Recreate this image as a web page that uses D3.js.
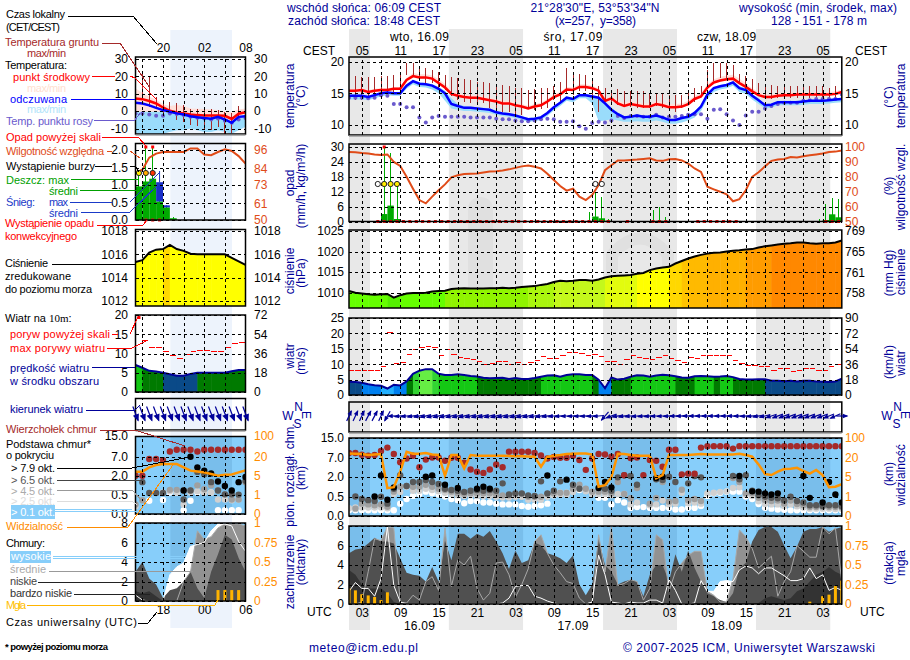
<!DOCTYPE html>
<html>
<head>
<meta charset="utf-8">
<script src="https://cdn.jsdelivr.net/npm/d3@7"></script>
<style>
body { margin: 0; background: #fff; }
text { font-family: "Liberation Sans", Arial, sans-serif; font-size: 12px; }
.tick text { font-family: "Liberation Sans", Arial, sans-serif; font-size: 12px; }
</style>
</head>
<body>
<div id="chart"></div>
<script>
// ---------- main forecast, hourly, first point = 01 UTC 16.09 ----------
let mainTemp = [
  15.4,15.4,15.5,15.2,15.4,15.5,15.5,15.7,15.7,17.1,
  17.7,17.5,17.5,17.3,16.6,15.9,14.9,14.6,14.4,14.3,
  14.3,14.1,13.9,13.7,13.4,13.4,13.1,12.9,12.6,12.9,
  13.1,13.7,14.4,14.8,15.6,15.5,16,16,15.8,15.4,
  13.8,14.2,13.4,13,13.3,13.1,12.9,12.9,13.3,13.1,
  12.8,12.8,12.9,13.3,14.1,14.5,15.9,16.7,17,17.2,
  17.3,16.6,16,15.3,14.7,14.4,14.4,14.6,14.7,14.7,
  14.8,14.8,14.8,14.8,14.8,14.8,14.9,15.2];
let mainTempMax = [
  15.7,15.7,15.8,15.5,15.7,15.8,15.8,16,16,17.4,
  18.2,18,18,17.8,17.2,16.5,15.4,15,14.8,14.7,
  14.7,14.5,14.3,14.1,13.8,13.8,13.5,13.3,13,13.3,
  13.5,14.1,14.8,15.2,16,15.9,16.4,16.4,16.2,15.8,
  14.2,14.6,13.9,13.5,13.8,13.6,13.4,13.4,13.8,13.6,
  13.3,13.3,13.4,13.8,14.6,15,16.4,17.2,17.6,17.8,
  17.9,17.3,16.6,15.8,15.2,14.8,14.8,15,15.1,15.1,
  15.2,15.2,15.2,15.2,15.2,15.2,15.3,15.6];
let mainTempMin = [
  15.2,15.2,15.3,15,15.2,15.3,15.3,15.5,15.5,16.9,
  17.5,17.3,17.3,17.1,16.4,15.7,14.7,14.4,14.2,14.1,
  14.1,13.9,13.7,13.5,13.2,13.2,12.9,12.7,12.4,12.7,
  12.9,13.5,14.2,14.6,15.4,15.3,15.8,15.8,15.6,15.2,
  13.6,14,13.2,12.8,13.1,12.9,12.7,12.7,13.1,12.9,
  12.6,12.6,12.7,13.1,13.9,14.3,15.7,16.5,16.8,17,
  17.1,16.4,15.8,15.1,14.5,14.2,14.2,14.4,14.5,14.5,
  14.6,14.6,14.6,14.6,14.6,14.6,14.7,15];
let mainFeel = [
  14.6,14.6,14.6,14.4,14.7,15,15.1,15,15,16.2,
  16.9,16.5,16.4,16.2,15.7,15,13.3,13,12.7,12.7,
  12.6,12.5,12.4,12,11.8,11.7,11.5,11.2,10.9,11,
  11.2,11.9,12.8,13.5,14.3,14.1,14.7,14.7,14.5,14.3,
  13.4,12.4,11.7,11.2,11.3,11.5,11.3,11.3,11.5,11.2,
  10.8,10.8,11.1,11.3,11.9,12.9,14.8,15.8,16.1,16.3,
  16.7,15.8,15.5,14.6,13.9,13.1,13.2,13.6,13.6,13.6,
  13.6,13.7,13.8,13.8,13.8,13.9,14,14.1];
let mainFeelMax = [
  14.8,14.8,14.8,14.6,14.9,15.2,15.3,15.2,15.2,16.4,
  17.1,16.7,16.6,16.4,16,15.4,14.2,13.3,13,12.9,
  12.8,12.7,12.6,12.2,12,11.9,11.7,11.4,11.1,11.2,
  11.4,12.1,13,13.7,14.5,14.3,14.9,14.9,14.7,14.5,
  13.7,12.7,12,11.4,11.5,11.7,11.5,11.5,11.7,11.4,
  11,11,11.3,11.5,12.1,13.2,15.1,16,16.3,16.5,
  16.9,16.1,15.8,14.9,14.2,13.3,13.4,13.8,13.8,13.8,
  13.8,13.9,14,14,14,14.1,14.2,14.3];
let mainFeelMin = [
  14,14,14,13.9,14.2,14.5,14.7,14.6,14.6,15.7,
  16.4,16,15.9,15.6,15,13.8,12.6,12.4,12.2,12.2,
  12.1,12,11.9,11.6,11.4,11.3,11.1,10.8,10.5,10.6,
  10.8,11.4,12.3,13,13.8,13.6,14.2,14.2,13.4,10.6,
  10.7,10.9,10.7,10.5,10.5,10.6,10.5,10.5,10.7,10.5,
  10.2,10.2,10.4,10.7,11.2,12.2,14.1,15.2,15.6,15.8,
  16.2,15.2,14.9,14,13.3,12.6,12.7,13.1,13.1,13.1,
  13.1,13.2,13.3,13.3,13.3,13.4,13.5,13.6];
let mainDew = [
  14.3,14.3,14.3,14.2,14.3,14.7,14.6,13.3,13.3,12.8,
  12.8,11.2,10.4,11.2,11.4,11.3,11.3,11.3,11.3,11.2,
  11.2,11.2,11.2,11,10.9,10.9,10.7,10.6,10.6,10.7,
  10.9,11,10.9,10.5,10.5,10.6,9.8,9.4,10.3,10.5,
  10.4,10.7,11.4,11.1,11.4,11.4,11.3,11.3,11.6,11.2,
  11.3,11.3,11.4,11.6,11.7,11.7,11,12.4,12.5,11.7,
  10.7,10,11.5,12.1,12.1,12.6,13,13.3,13.5,13.5,
  13.5,13.8,13.9,14.1,14.1,14.1,14.1,14.8];
let mainSoilMax = [
  null,17.7,17.6,17.5,17.5,17.7,17.7,17.9,18.2,19.7,
  19.7,19.2,18.9,18.7,18.4,17.9,17.6,17.4,17.2,17.1,
  16.8,16.7,16.6,16.5,16.3,16.2,15.9,15.8,15.5,15.6,
  15.9,15.9,16.2,16.8,18.9,18.4,18,17.9,17.1,16.2,
  15.8,15.5,15.6,15.4,15.4,15.3,15.3,15.1,15.1,15,
  14.8,14.7,14.8,15.4,15.8,16.2,18.7,19.7,19.7,19.7,
  19.5,18,17.7,17.2,16.6,16.3,16.3,16.2,16.2,16.1,
  16.1,16.2,16.2,16.2,16.1,15.9,16.2,15.8];
let mainSoilMin = [
  null,13.9,13.9,13.9,14.1,14.5,14.7,15,14.7,17.8,
  17.9,17.1,16.6,16.6,15.8,15.5,14.5,13.9,13.7,13.4,
  13.4,13.4,12.6,12.6,12.1,12.1,11.8,11.6,12.6,12.4,
  12.5,12.6,13.9,13.4,15,14.7,15.3,15.3,13.9,12.1,
  13.9,13.2,13.2,12.9,12.9,12.6,12.6,12.6,13,12.6,
  12.4,12.1,12.6,13.4,13.7,14.5,16.1,17,17.4,17.4,
  17.1,16.7,15.5,14.7,14.5,14.2,14.1,14.2,14.2,14.2,
  14.2,14.3,14.3,14.3,14.3,14.3,14.3,14.5];
let mainHumidity = [
  96.7,96.5,96,95.6,94.9,94.7,95,90,87.3,80,
  72,64.4,62.2,66.7,71,74.9,79.6,81,81.8,82,
  82.2,82.9,83.6,83.8,84.2,85,86,87,87.5,86.7,
  85.6,82,77.8,73.8,70.7,72,66.7,64.4,67.8,74.4,
  84.4,87.8,90.9,91,91.3,91.6,92,92.4,90.9,90.7,
  91.8,92,91,88.9,85.6,83.3,73.3,71.6,70,68.2,
  63.6,65,71,80,83,87,90.7,91.6,92,93.3,
  93,93.8,94.4,95,95.6,96.7,96.9,97.6];
let mainRainHours = [6,7,8,38,39,40,41,48,49,50,74,75,76,77];
let mainRainMean = [3,6.4,1,0,2,1.3,0.3,0.2,0.3,0.2,0.2,0.6,2.9,1.7];
let mainRainMax = [31,27.6,15.6,4,12,10,1,4.7,5.7,1.7,1,7,9.3,9];
let mainStormHours = [5,6,7,8,39,40];
let mainStormLevel = [0,1,1,1,0,0];
let mainConvective = [5,6,7,8,9,10,11,12,13,14,15,16,17,18,19,20,21,22,23,24,25,26,27,28,29,30,
  31,32,33,34,35,36,37,38,39,40,41,44,48,49,50,55,56,57,58,59,60,61,75,76,77];
let mainPressure = [
  1010.4,1010,1009.8,1009.6,1009.5,1009.6,1009.7,1008.8,1009.4,1009.8,
  1009.9,1009.9,1010,1010.3,1010.4,1010.5,1010.9,1011,1011.1,1011,
  1011,1011,1011.1,1011.1,1011.2,1011.1,1011.2,1011.4,1011.5,1011.6,
  1011.9,1012.1,1012.6,1012.9,1012.8,1012.9,1013.1,1013.1,1012.9,1013.2,
  1013.7,1014,1014.1,1014.2,1014.3,1014.6,1014.8,1015.5,1015.9,1016.1,
  1016.3,1017.1,1017.7,1018.3,1018.8,1019.2,1019.5,1019.7,1019.8,1020,
  1020.2,1020.3,1020.5,1020.6,1021,1021.3,1021.5,1021.7,1021.9,1022,
  1022.2,1022.2,1022,1021.9,1022,1022,1022.2,1022.7];
let mainWind = [
  4.3,4.2,4,3.5,3.2,3,2.1,3.3,3.1,4.4,
  6.9,7.9,8.4,8.4,6.9,6.5,6.5,6.7,6.5,6.2,
  6,5.6,5.4,5.5,5.6,5.2,5.5,5.2,5.2,5.5,
  5.9,6.3,6.4,5.9,6.5,6.7,6.7,6.5,6.5,5,
  2.2,5.7,5,5.3,5.9,6.4,6.3,5.9,6.3,6.6,
  6.4,6.1,5.7,5.6,6.1,6.2,6.1,5.9,6,6.2,
  5.8,5.2,5,5,5.1,5.1,4.6,4.6,4.5,4.6,
  4.4,4.6,4.6,4.4,4.3,4.2,4.4,5.3];
let mainGust = [
  8,8,8,8,7.8,9.1,20.4,10.1,10.5,13.2,
  14.8,15.4,15.7,15.4,12.8,14.8,13.1,12.3,11.7,11.5,
  10.8,9.8,10.2,10.8,10.8,9.9,10.5,9.8,10.5,11.1,
  12.4,12,12,12.8,13.7,13.8,13.4,12.8,13.1,12.4,
  10.8,10.8,9.8,11.5,12.8,12.1,11.8,11.5,12.1,12.7,
  12,11.1,10.5,12.1,11.8,12.8,12.8,12.8,12.8,12.8,
  11.1,10.1,9.5,9.5,9.1,9.1,8.1,8.5,8.5,7.5,
  8.1,8.5,8.5,8.1,8.1,9.1,9.8,null];
let mainWindFrom = [
  205,205,205,208,208,205,30,88,84,82,
  80,78,76,75,75,75,75,75,75,75,
  75,75,75,75,75,75,75,75,76,77,
  78,80,82,84,85,86,86,86,86,85,
  40,70,80,80,82,82,84,84,85,85,
  86,88,88,90,90,90,90,90,90,90,
  90,88,86,84,80,76,72,70,70,70,
  70,70,70,70,70,68,66,270];
let mainCloudTop = [
  8.9,8.9,8.2,7.8,8.1,9.7,11.1,8.5,5.8,6.8,
  7.8,4.5,6.5,7.1,7.1,6.2,7,7,5.7,3.9,
  3.3,3,3.9,5.2,4.5,9.4,9.4,9.4,9.4,8.9,
  7.9,6.8,7.3,7,7,7.8,6.4,3.8,6.8,8.5,
  8.3,7.4,8.5,2.4,6.9,7.1,2.4,6.4,6.2,4.6,
  10.2,10.2,2.6,2.8,2.8,11.1,11.7,11.7,11.7,11.7,
  10.7,11.7,11.7,11.7,11.7,11.7,11.7,11.7,11.7,11.7,
  11.7,11.7,11.7,11.7,11.7,11.7,11.7,11.7];
let mainBase79 = [
  null,null,null,null,0.52,2.3,0.42,1.2,null,null,
  null,null,2,2.3,null,1.4,null,1.15,null,null,
  1.1,1.25,1.1,null,null,null,null,null,null,null,
  null,2.3,null,null,1.78,null,null,null,null,1.15,
  1.6,1.2,null,null,null,null,null,null,1.9,2,
  null,null,null,null,null,null,null,null,null,null,
  null,2.2,null,0.9,0.88,0.75,0.66,0.75,null,null,
  null,2.2,0.47,null,0.35,1.6,0.66,0.35];
let mainBase65 = [
  null,0.52,0.44,0.41,0.39,0.5,0.32,1.1,2.4,1.3,
  1.6,1.6,1.75,1.6,1.45,1.1,1,0.95,0.85,0.95,
  1,0.95,1,0.95,1.5,0.66,0.75,0.75,0.6,0.55,
  1.65,0.75,0.95,1.65,null,1.4,1.1,null,null,null,
  1.1,0.95,1.95,2.4,2.2,1.4,null,null,1.8,1.75,
  2,1.6,null,1.5,2.2,1.95,null,null,null,null,
  2.2,1.8,2.4,0.95,0.6,0.5,0.47,0.46,0.4,0.5,
  0.39,0.35,0.28,0.28,0.26,0.28,0.28,0.25];
let mainBase45 = [
  null,0.19,0.32,0.3,0.28,0.3,0.24,0.88,1.25,1.3,
  1.25,1.25,1.4,1.25,1.1,1,0.88,0.75,0.7,0.75,
  0.75,0.75,0.75,0.66,0.6,0.6,0.7,0.7,0.5,0.5,
  0.5,0.7,0.75,0.8,0.8,1.1,1.4,1.1,0.88,0.88,
  0.88,0.75,1.6,0.7,0.46,1.15,null,0.32,0.47,1.6,
  0.37,0.39,1.02,0.41,0.44,0.39,null,null,null,null,
  1.9,1.6,0.75,0.75,0.47,0.41,0.39,0.4,0.32,0.4,
  0.31,0.28,0.23,0.23,0.23,0.23,0.23,0.22];
let mainBase25 = [
  0.2,0.22,0.22,0.22,0.22,0.22,0.2,0.7,0.85,1.25,
  0.95,0.95,1.1,1,0.9,0.8,0.7,0.6,0.55,0.6,
  0.55,0.55,0.55,0.5,0.48,0.48,0.5,0.5,0.42,0.42,
  0.42,0.5,0.6,0.65,0.65,0.85,1.2,0.9,0.7,0.7,
  0.7,0.6,0.7,0.7,0.3,0.35,null,0.28,0.3,0.4,
  0.3,0.32,0.8,0.33,0.35,0.32,0.75,0.8,0.85,0.9,
  1.15,1.2,0.65,0.55,0.38,0.31,0.3,0.3,0.26,0.3,
  0.25,0.22,0.19,0.19,0.19,0.19,0.18,0.18];
let mainBase01 = [
  0.15,0.15,0.15,0.15,0.15,0.15,0.15,0.15,0.32,0.44,
  0.56,0.7,0.88,0.75,0.66,0.52,0.44,0.41,0.33,0.39,
  0.39,0.35,0.35,0.32,0.3,0.3,0.3,0.26,0.24,0.26,
  0.28,0.32,0.6,0.8,0.8,0.95,1,0.95,0.75,0.47,
  0.47,0.3,0.41,0.35,0.21,0.23,0.23,0.21,0.21,0.21,
  0.21,0.17,0.17,0.21,0.21,0.26,0.56,0.75,0.8,0.88,
  0.88,0.88,0.52,0.44,0.31,0.21,0.19,0.17,0.16,0.15,
  0.15,0.15,0.15,0.15,0.15,0.15,0.15,0.15];
let mainVisibility = [
  37,36,35,31,33,35,2.7,2.9,9,44,
  36,36,39,33,31,5.8,31,31,11.6,31,
  28,28,28,28,28,27,26,26,25,24,
  12.9,23,28,31,35,36,37,37,33,3,
  3.3,4.9,36,35,31,28,28,28,4.7,6.3,
  31,31,31,31,33,35,33,33,33,33,
  33,36,31,24,14.7,7.1,6.3,9,11,11.3,
  12,9.5,7.4,10.3,6.3,2.9,3,3.5];
let mainCloudVeryLow = [
  3.5,3,2,1.6,1.6,1.6,1.1,0.2,0,0,
  0,0,0,0,0,0,0,0,0,0,
  0,0,0,0,0,0,0,0,0,0,
  0,0,0,0,0,0,0,0,0,0,
  0,0,0,0,0,0,0,0,0,0,
  0,0,0,0,0,0,0,0,0,0,
  0,0,0,0,0.1,0.6,0.8,0.6,0.4,0.6,
  1.3,1.6,2.3,3,3.3,3.8,3.3,3];
let mainCloudLow = [
  5.2,5.6,5.7,6.2,6.8,6.4,6.4,6.2,4.7,3.2,
  3,2.9,2.3,3.8,2.3,6.5,4.5,7.2,7.2,6.7,
  7.2,6.9,7.5,6.4,5.2,3.6,5.5,4.2,4.5,6.3,
  6,5.2,5,4.7,4.2,5,2,0.9,2,6.7,
  4,3.3,2,2.3,2.5,2.3,0.8,3,4,4,
  2.3,5.1,3.3,5.5,3.7,2.3,1.1,0.8,0.4,0.2,
  1.1,3.7,4.2,6.4,7.6,7.9,7.9,7.4,6,4.7,
  5.9,7.4,7.7,7.7,7.9,7.4,7.7,7.9];
let mainCloudMid = [
  0,0,0.2,3.3,6.7,6.5,7.9,7.8,0.2,0.1,
  0.9,0.4,2.3,2.8,1.4,7.8,1.8,4.5,4,4.9,
  1.6,0.4,1.1,4.2,4.3,3,0.7,2,3.6,6.4,
  7.1,5.2,4,3.2,2.3,2.1,0.6,0,0.2,7.1,
  3.3,7.9,1.9,2.1,2.5,2.3,0.4,1.6,7.1,6.6,
  1.3,3.3,4.2,5,5.4,5.4,1.3,0.9,0.2,0.2,
  2.6,7.6,6.9,5.7,3.7,4.3,4.9,0.8,2.3,3.3,
  6,5.4,4.8,4.8,7.9,7.2,7.8,2.3];
let mainCloudHigh = [
  1.3,2.2,1.6,1.6,0.8,2.6,7.9,1.9,0.2,0,
  0,0,0,0,0,0,0,0,0,0,
  0,0,0,0,0.1,0.6,1.8,1.9,1.9,0.8,
  0.6,0.3,0.1,0,0,0,0,0,0.2,5,
  3,0.2,0.1,0,0.2,0.1,0.1,0.4,0.4,0.1,
  2.5,1.4,0,0,0.1,2.4,1.3,1.3,2.3,2.4,
  2.3,3.5,3.9,3.7,3.1,3.7,3.7,3.3,2.9,2.4,
  2.4,2.6,3.7,2.6,3,1.4,1.7,1.4];
let mainFogHours = [1,2,3,4,5,6,7,73,75,76,77,78];
let mainFog = [0.2,0.175,0.125,0.11,0.09,0.05,0.15,0.03,0.1,0.12,0.23,0.3];

// ---------- legend forecast, hourly, first point = 14 UTC 15.09 ----------
let sideTemp = [7.3,6.9,5.8,4.4,2.1,0.2,-0.8,-1.3,-1.9,-2.3,-2.5,-2.5,-2.5,-2.7,-4.5,-1.5,-0.6];
let sideTempMax = [13,10.6,8.3,6.7,4,2.9,3.5,2.9,1.5,1.3,1.2,1,0.6,-0.4,-0.4,1,1.5];
let sideTempMin = [-0.5,-0.5,-0.5,-0.5,-0.5,-1,-2,-2.5,-3,-3.5,-3.5,-3.5,-3.5,-4,-6,-3,-2];
let sideFeel = [4.8,4.4,3.3,1.9,0.6,-0.4,-1.3,-1.9,-2.9,-3.5,-4,-4.4,-3.3,-4.8,-6.7,-3.3,-2.9];
let sideFeelMax = [-0.4,-0.4,-0.4,-0.4,-0.4,-1,-2,-2.5,-3,-3.5,-3.5,-3.5,-3.5,-4,-6,-3,-2];
let sideFeelMin = [-13,-13,-13,-13,-13,-12,-11,-11,-10,-11,-12,-12,-11,-12,-13,-11,-9];
let sideDew = [-1.3,-1.3,-1.9,-2.7,-2.7,-1.3,-1.7,-2.3,-3.3,-3.8,-4.2,-4.8,-4.2,-5.6,-6.7,-4.8,-4];
let sideSoilMax = [null,22.7,19.4,8.3,6.3,5.4,4.4,3.5,1.5,1.5,1,1.5,0.6,-0.4,-1.3,2.9,null];
let sideSoilMin = [null,7.3,2.5,2.5,-1.3,-2.3,-5.2,-6.2,-8,-8.7,-10,-11,-9,-12.9,-12.5,-5.2,null];
let sideHumidity = [81,83,91,93.6,94.7,94.7,94.7,94.7,97,97,93,92.6,94.7,96.5,95.4,92,87];
let sideRainHours = [14,15,16,17,18,19];
let sideRainMean = [0.96,1.1,1.18,0.53,0.36,0.05];
let sideRainMax = [1.35,3,3,0.6,0.4,0.1];
let sideSnowHours = [17,18];
let sideSnowMean = [0.55,0.06];
let sideSnowMax = [1.4,0.4];
let sideStormHours = [14,15,16];
let sideStormLevel = [1,2,3];
let sideConvective = [15,16,17];
let sidePressure = [1015.35,1015.5,1016.15,1016.4,1016.45,1016.8,1016.45,1016.3,1016.05,1016,1016,1016,1016,1016,1015.7,1015.4,1015.1];
let sideWind = [7,6.3,5.5,5.3,5,4.6,4.2,4.2,4.7,5,5,5,5,5,5.4,5.7,5.7];
let sideGust = [22,13.3,11.6,11.6,10.5,9.6,8.8,9.8,10.5,10.8,10.8,10.6,10.6,11.6,12.7,12.9,null];
let sideWindFrom = [339,339,339,339,339,339,339,339,339,339,339,339,339,339,339,339,339];
let sideCloudTop = [2,2,6.4,6.4,6.1,9,9.7,9.7,9.7,9,9.7,9.7,9.7,9.7,9.7,9.7,9.7];
let sideBase79 = [null,null,null,null,null,null,null,0.85,7,4.2,3.3,2.6,1.55,1.2,0.85,1.5,1.9];
let sideBase65 = [null,1.5,0.65,0.65,0.65,null,null,0.38,0.85,3,2.4,1.5,0.85,0.55,0.55,0.53,1.6];
let sideBase45 = [0.25,0.36,null,null,null,0.9,0.9,0.85,0.85,1.25,0.95,1.25,0.85,0.55,0.38,0.38,1.5];
let sideBase25 = [0.2,null,null,null,0.7,0.8,0.7,0.25,0.7,0.8,0.7,0.7,0.38,0.38,0.36,0.38,null];
let sideBase01 = [null,null,0.35,null,0.37,0.7,0.7,0.1,0.35,0.7,0.7,0.7,0.1,0.1,0.1,0.1,null];
let sideVisibility = [8.2,8.2,11.6,13.4,14.2,14.2,14.2,11.6,9,8.4,7.6,6.3,5,5.8,6,7.6,9.2];
let sideCloudVeryLow = [1,0.8,1,0.5,0,0,0,0,0,0,0,0,0,0,0,0,0];
let sideCloudLow = [3,4,2.3,1.7,0.3,1.1,1.3,2,3,1.3,0.3,3,4.8,6.8,6.3,4.4,3];
let sideCloudMid = [0,0,0,0,0,0,0,2,3,7.2,6.3,6.6,7.5,7.9,7.9,7.9,7.7];
let sideCloudHigh = [0.6,0.1,0,0,0,2.7,3.5,3.9,5.6,5.8,6,7.2,7.9,7.9,7.7,6.1,5.1];
let sideFogHours = [26,27,28,29];
let sideFog = [0.14,0.14,0.14,0.14];

// ---------- tick labels and time bands ----------
let mainNightStart = [1,16.6,40.7,64.6];
let mainNightEnd = [4.28,28.2,52.25,76.2];
let mainLocalLabels = ['05','11','17','23','05','11','17','23','05','11','17','23','05'];
let mainUtcLabels = ['03','09','15','21','03','09','15','21','03','09','15','21','03'];
let sideLocalLabels = ['20','02','08'];
let sideUtcLabels = ['18','00','06'];
let dayLabels = ['wto, 16.09','śro, 17.09','czw, 18.09'];
let dateLabels = ['16.09','17.09','18.09'];
let baseTicks = [15,7,2,0.5,0];
let visibilityTicks = [100,20,5,1,0];
let oktaTicks = [8,6,4,2,0];
let fogTicks = [1,0.75,0.5,0.25,0];

const NAVY = '#000099', ORANGE = '#ff8c00', HUMID = '#e04b18', BROWN = '#a52a2a', SKY = '#87cefa';
const BASE_COLORS = ['#ffffff','#d0d0d0','#a0a0a0','#585858','#000000'];
const STORM_COLORS = ['#ffffff','#ffee00','#ffaa00','#ff3300'];

let width = 910, height = 660;
let svg = d3.select('#chart').append('svg').attr('width', width).attr('height', height);
let defs = svg.append('defs');
let clipCount = 0;

let pressureColor = d3.scaleLinear()
  .domain([1008,1009,1010,1011,1013,1015,1016,1017,1018,1020,1022,1023])
  .range(['#33e811','#55f000','#66ff00','#90f400','#c4f81c','#ffff00','#ffff00','#ffd800','#ffc400','#ffb000','#ff8800','#ff5a00']);
let windColor = d3.scaleThreshold()
  .domain([3,4,5,6,7,8])
  .range(['#22b0ff','#0080f0','#0a4a88','#007a00','#14c814','#33d433','#66ee44']);

function text(g, x, y, s, color, anchor, len) {
  let t = g.append('text').attr('x', x).attr('y', y).attr('fill', color || '#000')
    .attr('text-anchor', anchor || 'start').text(s);
  if (len) t.attr('textLength', len).attr('lengthAdjust', 'spacing');
  return t;
}
function vtext(x, y, s, color) {
  svg.append('text').attr('transform', `translate(${x},${y}) rotate(-90)`)
    .attr('text-anchor', 'middle').attr('fill', color || NAVY).text(s);
}
function joined(hours, values) {
  return hours.map((h, i) => ({ h: h, v: values[i] }));
}
function clip(x0, y0, x1, y1) {
  let id = 'c' + (clipCount++);
  defs.append('clipPath').attr('id', id).append('rect')
    .attr('x', x0).attr('y', y0).attr('width', x1 - x0).attr('height', y1 - y0);
  return 'url(#' + id + ')';
}

// one vertical scale of labels on a panel side
function tickAxis(x, scale, values, side, fmt, color) {
  let axis = side == 'left' ? d3.axisLeft(scale) : d3.axisRight(scale);
  let g = svg.append('g').attr('transform', `translate(${x},0)`)
    .call(axis.tickValues(values).tickSize(0).tickPadding(0).tickFormat(fmt || (d => d)));
  g.select('.domain').remove();
  g.selectAll('text').attr('fill', color || '#000');
}
function timeAxis(scale, hours, labels, y) {
  let g = svg.append('g').attr('transform', `translate(0,${y})`)
    .call(d3.axisBottom(scale).tickValues(hours).tickSize(0).tickPadding(0).tickFormat((d, i) => labels[i]));
  g.select('.domain').remove();
  g.selectAll('text').attr('fill', '#000');
}
function grid(g, x, yTicks, yScale, top, bottom, hours) {
  let x0 = x.range()[0], x1 = x.range()[1];
  let gx = g.append('g').attr('transform', `translate(0,${bottom})`)
    .call(d3.axisBottom(x).tickValues(hours).tickSize(-(bottom - top)).tickFormat(''));
  gx.select('.domain').remove();
  if (yTicks) {
    let gy = g.append('g').attr('transform', `translate(${x0},0)`)
      .call(d3.axisLeft(yScale).tickValues(yTicks).tickSize(-(x1 - x0)).tickFormat(''));
    gy.select('.domain').remove();
  }
  g.selectAll('.tick line').attr('stroke', '#000').attr('stroke-dasharray', '3,3').attr('shape-rendering', 'crispEdges');
}
function frame(g, x, top, bottom, shade) {
  let x0 = x.range()[0], x1 = x.range()[1];
  g.append('rect').attr('x', x0).attr('y', top).attr('width', x1 - x0).attr('height', bottom - top)
    .attr('fill', 'none').attr('stroke', '#000').attr('stroke-width', 1.5);
  if (shade) {
    g.append('line').attr('x1', x0).attr('x2', x1).attr('y1', bottom + 0.8).attr('y2', bottom + 0.8)
      .attr('stroke', '#777').attr('stroke-width', 1.5);
  }
}
function panelBackground(g, x, top, bottom, nightStart, nightEnd) {
  g.append('rect').attr('x', x.range()[0]).attr('y', top)
    .attr('width', x.range()[1] - x.range()[0]).attr('height', bottom - top).attr('fill', SKY);
  nightStart.forEach(function(s, i) {
    g.append('rect').attr('x', x(s)).attr('y', top).attr('width', x(nightEnd[i]) - x(s))
      .attr('height', bottom - top).attr('fill', '#003070').attr('opacity', 0.1);
  });
}
function band(g, hours, lo, hi, x, y, color) {
  let area = d3.area().x(d => x(d)).y0((d, i) => y(lo[i])).y1((d, i) => y(hi[i]));
  g.append('path').attr('d', area(hours)).attr('fill', color);
}
function line(g, hours, values, x, y, color, w) {
  let path = d3.line().defined((d, i) => values[i] != null).x(d => x(d)).y((d, i) => y(values[i]));
  g.append('path').attr('d', path(hours)).attr('fill', 'none').attr('stroke', color).attr('stroke-width', w);
}

// whole column of panels, used for both the legend forecast and the main one
function drawColumn(c) {
  let x = c.x, hours = c.hours, P = c.panels;
  let x0 = x.range()[0], x1 = x.range()[1];

  // temperature
  let g = svg.append('g');
  let yT = d3.scaleLinear().domain(c.tempDomain).range(c.tempRange);
  let inner = g.append('g').attr('clip-path', clip(x0, P.temp[0], x1, P.temp[1]));
  band(inner, hours, c.tempMin, c.tempMax, x, yT, '#ffe0da');
  band(inner, hours, c.feelMin, c.feelMax, x, yT, '#9adcfb');
  inner.selectAll('.soil').data(hours.filter((h, i) => c.soilMax[i] != null)).enter().append('line')
    .attr('x1', d => x(d)).attr('x2', d => x(d))
    .attr('y1', d => yT(c.soilMax[hours.indexOf(d)])).attr('y2', d => yT(c.soilMin[hours.indexOf(d)]))
    .attr('stroke', BROWN).attr('stroke-width', 1).attr('shape-rendering', 'crispEdges');
  inner.selectAll('.dew').data(hours).enter().append('circle')
    .attr('cx', d => x(d)).attr('cy', (d, i) => yT(c.dew[i])).attr('r', 2).attr('fill', '#6a5acd');
  line(inner, hours, c.temp, x, yT, '#ff0000', 2.5);
  line(inner, hours, c.feel, x, yT, '#0000ff', 2.5);
  grid(g, x, c.tempTicks, yT, P.temp[0], P.temp[1], c.gridHours);
  frame(g, x, P.temp[0], P.temp[1], true);
  tickAxis(c.labelLeft, yT, c.tempTicks, 'left');
  tickAxis(c.labelRight, yT, c.tempTicks, 'right');

  // rain and humidity
  g = svg.append('g');
  let yR = d3.scaleLinear().domain(c.rainDomain).range(c.rainRange);
  let yH = d3.scaleLinear().domain(c.humidDomain).range(c.humidRange);
  inner = g.append('g').attr('clip-path', clip(x0, P.rain[0], x1, P.rain[1]));
  let rain = joined(c.rainHours, c.rainMean).map((d, i) => ({ h: d.h, v: d.v, max: c.rainMax[i] }));
  inner.selectAll('.rain').data(rain).enter().append('rect')
    .attr('x', d => x(d.h)).attr('width', x(1) - x(0)).attr('y', d => yR(d.v))
    .attr('height', d => yR(0) - yR(d.v)).attr('fill', '#00aa00');
  inner.selectAll('.rainmax').data(rain).enter().append('line')
    .attr('x1', d => x(d.h + 0.5)).attr('x2', d => x(d.h + 0.5)).attr('y1', yR(0))
    .attr('y2', d => Math.max(yR(d.max), c.overY)).attr('stroke', '#00aa00').attr('shape-rendering', 'crispEdges');
  if (c.snowHours) {
    let snow = joined(c.snowHours, c.snowMean).map((d, i) => ({
      h: d.h, v: d.v, max: c.snowMax[i], under: rain.find(r => r.h == d.h).v }));
    inner.selectAll('.snow').data(snow).enter().append('rect')
      .attr('x', d => x(d.h)).attr('width', x(1) - x(0)).attr('y', d => yR(d.under + d.v))
      .attr('height', d => yR(d.under) - yR(d.under + d.v)).attr('fill', '#1a2fc8');
    inner.selectAll('.snowmax').data(snow).enter().append('line')
      .attr('x1', d => x(d.h + 0.5)).attr('x2', d => x(d.h + 0.5)).attr('y1', d => yR(d.under + d.v))
      .attr('y2', d => yR(d.max)).attr('stroke', '#1a2fc8');
  }
  line(inner, hours, c.humidity, x, yH, HUMID, 2);
  g.selectAll('.over').data(rain.filter(d => d.max > c.rainDomain[1])).enter().append('rect')
    .attr('x', d => x(d.h + 0.5) - 1.5).attr('y', c.overY - 1.5).attr('width', 3).attr('height', 3).attr('fill', '#ff0000');
  grid(g, x, c.rainTicks, yR, P.rain[0], P.rain[1], c.gridHours);
  g.selectAll('.storm').data(joined(c.stormHours, c.stormLevel)).enter().append('circle')
    .attr('cx', d => x(d.h + 0.5)).attr('cy', c.stormY).attr('r', 2.6)
    .attr('fill', d => STORM_COLORS[d.v]).attr('stroke', '#222').attr('stroke-width', 1);
  g.selectAll('.conv').data(c.convective).enter().append('rect')
    .attr('x', d => x(d + 0.5) - 1.5).attr('y', yR(0) - 1.5).attr('width', 3).attr('height', 3).attr('fill', '#e81010');
  frame(g, x, P.rain[0], P.rain[1]);
  tickAxis(c.labelLeft, yR, c.rainTicks, 'left', c.rainFormat);
  tickAxis(c.labelRight, yH, c.humidTicks, 'right', null, HUMID);

  // pressure, coloured columns cut by the area under the line
  g = svg.append('g');
  let yP = d3.scaleLinear().domain(c.pressDomain).range(c.pressRange);
  let areaP = d3.area().x(d => x(d)).y0(P.press[1]).y1((d, i) => yP(c.pressure[i]));
  let idP = 'c' + (clipCount++);
  defs.append('clipPath').attr('id', idP).append('path').attr('d', areaP(hours));
  inner = g.append('g').attr('clip-path', 'url(#' + idP + ')');
  inner.selectAll('rect').data(hours.slice(0, -1)).enter().append('rect')
    .attr('x', d => x(d)).attr('width', x(1) - x(0) + 0.5).attr('y', P.press[0]).attr('height', P.press[1] - P.press[0])
    .attr('fill', (d, i) => pressureColor(Math.round(c.pressure[i] * (1 - c.pressLead) + c.pressure[i + 1] * c.pressLead)));
  line(g, hours, c.pressure, x, yP, '#000', 2);
  grid(g, x, c.pressTicks, yP, P.press[0], P.press[1], c.gridHours);
  frame(g, x, P.press[0], P.press[1]);
  tickAxis(c.labelLeft, yP, c.pressTicks, 'left');
  tickAxis(c.labelRight, c.pressRightScale, c.pressRightTicks, 'right', d => Math.round(d));

  // wind
  g = svg.append('g');
  let yW = d3.scaleLinear().domain(c.windDomain).range(c.windRange);
  let areaW = d3.area().x(d => x(d)).y0(yW(0)).y1((d, i) => yW(c.wind[i]));
  let idW = 'c' + (clipCount++);
  defs.append('clipPath').attr('id', idW).append('path').attr('d', areaW(hours));
  inner = g.append('g').attr('clip-path', 'url(#' + idW + ')');
  inner.selectAll('rect').data(hours.slice(0, -1)).enter().append('rect')
    .attr('x', d => x(d)).attr('width', x(1) - x(0) + 0.5).attr('y', P.wind[0]).attr('height', P.wind[1] - P.wind[0])
    .attr('fill', (d, i) => windColor((c.wind[i] + c.wind[i + 1]) / 2));
  line(g, hours, c.wind, x, yW, '#000099', 2);
  let gusts = joined(hours, c.gust).filter(d => d.v != null);
  g.selectAll('.gust').data(gusts.filter(d => d.v <= c.windDomain[1])).enter().append('line')
    .attr('x1', d => x(d.h)).attr('x2', d => x(d.h + 1) - 1).attr('y1', d => yW(d.v)).attr('y2', d => yW(d.v))
    .attr('stroke', '#ff0000').attr('stroke-width', 1).attr('shape-rendering', 'crispEdges');
  g.selectAll('.gustover').data(gusts.filter(d => d.v > c.windDomain[1])).enter().append('rect')
    .attr('x', d => x(d.h + 0.5) - 1.5).attr('y', P.wind[0] + 1).attr('width', 3).attr('height', 3).attr('fill', '#ff0000');
  grid(g, x, c.windTicks, yW, P.wind[0], P.wind[1], c.gridHours);
  frame(g, x, P.wind[0], P.wind[1]);
  tickAxis(c.labelLeft, yW, c.windTicks, 'left');
  tickAxis(c.labelRight, c.kmhScale, c.kmhTicks, 'right');

  // wind direction arrows
  g = svg.append('g');
  grid(g, x, null, null, P.dir[0], P.dir[1], c.gridHours);
  frame(g, x, P.dir[0], P.dir[1], true);
  let tip = -c.arrowLen / 2;
  let arrows = g.selectAll('.arrow').data(joined(hours, c.windFrom)).enter().append('g')
    .attr('transform', d => `translate(${x(d.h)},${c.arrowY}) rotate(${d.v + 180})`);
  arrows.append('line').attr('y1', c.arrowLen / 2).attr('y2', tip).attr('stroke', NAVY).attr('stroke-width', 1.2);
  arrows.append('path').attr('d', `M0,${tip - 1}L${-c.arrowHead},${tip + c.arrowHead * 2}L${c.arrowHead},${tip + c.arrowHead * 2}Z`).attr('fill', NAVY);

  // cloud base, top and visibility
  g = svg.append('g');
  let yB = d3.scaleLinear().domain([0,0.5,2,7,15]).range(c.baseRange);
  let yV = d3.scaleLinear().domain([0,1,5,20,100]).range(c.baseRange);
  panelBackground(g, x, P.base[0], P.base[1], c.nightStart, c.nightEnd);
  inner = g.append('g').attr('clip-path', clip(x0, P.base[0], x1, P.base[1]));
  c.bases.forEach(function(series, k) {
    inner.selectAll('.b' + k).data(joined(hours, series).filter(d => d.v != null)).enter().append('circle')
      .attr('cx', d => x(d.h)).attr('cy', d => yB(d.v)).attr('r', 3.2).attr('fill', BASE_COLORS[k]);
  });
  inner.selectAll('.top').data(joined(hours, c.cloudTop)).enter().append('circle')
    .attr('cx', d => x(d.h)).attr('cy', d => yB(d.v)).attr('r', 3.2).attr('fill', BROWN);
  line(inner, hours, c.visibility, x, yV, '#ff9400', 2.5);
  grid(g, x, baseTicks, yB, P.base[0], P.base[1], c.gridHours);
  frame(g, x, P.base[0], P.base[1]);
  tickAxis(c.labelLeft, yB, baseTicks, 'left', d => d.toFixed(1));
  tickAxis(c.labelRight, yV, visibilityTicks, 'right', null, ORANGE);

  // cloud cover and fog
  g = svg.append('g');
  let yC = d3.scaleLinear().domain([0,8]).range(c.cloudRange);
  let yF = d3.scaleLinear().domain([0,1]).range(c.cloudRange);
  panelBackground(g, x, P.cloud[0], P.cloud[1], c.nightStart, c.nightEnd);
  inner = g.append('g').attr('clip-path', clip(x0, P.cloud[0], x1, P.cloud[1]));
  let zeros = hours.map(() => 0);
  band(inner, hours, zeros, c.cloudHigh, x, yC, '#ffffff');
  band(inner, hours, zeros, c.cloudMid, x, yC, '#929292');
  band(inner, hours, zeros, c.cloudLow, x, yC, '#505050');
  band(inner, hours, zeros, c.cloudVeryLow, x, yC, '#333333');
  line(inner, hours, c.cloudMid, x, yC, '#a8a8a8', 1);
  line(inner, hours, c.cloudHigh, x, yC, '#ffffff', 1);
  inner.selectAll('.fog').data(joined(c.fogHours, c.fog)).enter().append('rect')
    .attr('x', d => x(d.h) - 1.5).attr('width', 3).attr('y', d => yF(d.v)).attr('height', d => yF(0) - yF(d.v)).attr('fill', '#ffb400');
  grid(g, x, oktaTicks, yC, P.cloud[0], P.cloud[1], c.gridHours);
  frame(g, x, P.cloud[0], P.cloud[1]);
  tickAxis(c.labelLeft, yC, oktaTicks, 'left');
  tickAxis(c.labelRight, yF, fogTicks, 'right', d => d, ORANGE);
}

// ---------- night bands behind everything ----------
let xMain = d3.scaleLinear().domain([1,78]).range([349,841.8]);
let xSide = d3.scaleLinear().domain([14,30]).range([135.5,245.5]);

svg.append('g').selectAll('rect').data(mainNightStart).enter().append('rect')
  .attr('x', d => xMain(d)).attr('y', 29).attr('height', 601)
  .attr('width', (d, i) => xMain(mainNightEnd[i]) - xMain(d)).attr('fill', '#e8e8e8');
svg.append('rect').attr('x', xSide(19.07)).attr('y', 30).attr('height', 598)
  .attr('width', xSide(28.04) - xSide(19.07)).attr('fill', '#edf3fc');

// faint logo showing through the night bands
svg.append('rect').attr('x', 468).attr('y', 197).attr('width', 25).attr('height', 110).attr('rx', 12).attr('fill', '#e0e0e0');
svg.append('path').attr('d', 'M612,306V255Q640,222 668,255V306').attr('fill', 'none').attr('stroke', '#e0e0e0').attr('stroke-width', 12);

// ---------- draw columns ----------
drawColumn({
  x: xMain, hours: d3.range(1, 79), gridHours: d3.range(3, 78, 3),
  panels: { temp: [57,135], rain: [144,221.5], press: [230,308], wind: [318,395], dir: [402,432], base: [438,516], cloud: [526,604] },
  labelLeft: 344, labelRight: 845,
  tempDomain: [10,20], tempRange: [125,61.5], tempTicks: [20,15,10],
  temp: mainTemp, tempMax: mainTempMax, tempMin: mainTempMin, feel: mainFeel, feelMax: mainFeelMax, feelMin: mainFeelMin,
  dew: mainDew, soilMax: mainSoilMax, soilMin: mainSoilMin,
  rainDomain: [0,30], rainRange: [221.5,147], rainTicks: [30,24,18,12,6,0], overY: 147,
  humidDomain: [50,100], humidRange: [221.5,147], humidTicks: [100,90,80,70,60,50],
  rainHours: mainRainHours, rainMean: mainRainMean, rainMax: mainRainMax, humidity: mainHumidity,
  stormHours: mainStormHours, stormLevel: mainStormLevel, stormY: 184, convective: mainConvective,
  pressDomain: [1010,1025], pressRange: [292.7,231], pressTicks: [1025,1020,1015,1010], pressure: mainPressure, pressLead: 0.5,
  pressRightScale: d3.scaleLinear().domain([757.6,768.8]).range([292.7,231]), pressRightTicks: [757.6,761.3,765,768.8],
  windDomain: [0,25], windRange: [395,318], windTicks: [25,20,15,10,5,0], wind: mainWind, gust: mainGust,
  kmhScale: d3.scaleLinear().domain([0,90]).range([395,318]), kmhTicks: [90,72,54,36,18,0],
  windFrom: mainWindFrom, arrowY: 416, arrowLen: 11, arrowHead: 2.2,
  baseRange: [516,496.7,476.7,457.7,438], nightStart: mainNightStart, nightEnd: mainNightEnd,
  bases: [mainBase01,mainBase25,mainBase45,mainBase65,mainBase79], cloudTop: mainCloudTop, visibility: mainVisibility,
  cloudRange: [604,526], cloudVeryLow: mainCloudVeryLow, cloudLow: mainCloudLow, cloudMid: mainCloudMid, cloudHigh: mainCloudHigh,
  fogHours: mainFogHours, fog: mainFog
});

drawColumn({
  x: xSide, hours: d3.range(14, 31), gridHours: d3.range(15, 30, 3),
  panels: { temp: [57,134], rain: [143.5,220], press: [229.5,306], wind: [315,392], dir: [398.5,430], base: [436.5,514], cloud: [523,601] },
  labelLeft: 128, labelRight: 254,
  tempDomain: [-10,30], tempRange: [128.5,59], tempTicks: [30,20,10,0,-10],
  temp: sideTemp, tempMax: sideTempMax, tempMin: sideTempMin, feel: sideFeel, feelMax: sideFeelMax, feelMin: sideFeelMin,
  dew: sideDew, soilMax: sideSoilMax, soilMin: sideSoilMin,
  rainDomain: [0,2], rainRange: [220,150], rainTicks: [2,1.5,1,0.5,0], rainFormat: d => d.toFixed(1), overY: 147,
  humidDomain: [50,96], humidRange: [220,150], humidTicks: [96,84,73,61,50],
  rainHours: sideRainHours, rainMean: sideRainMean, rainMax: sideRainMax, humidity: sideHumidity,
  snowHours: sideSnowHours, snowMean: sideSnowMean, snowMax: sideSnowMax,
  stormHours: sideStormHours, stormLevel: sideStormLevel, stormY: 173, convective: sideConvective,
  pressDomain: [1012,1018], pressRange: [301,231], pressTicks: [1018,1016,1014,1012], pressure: sidePressure, pressLead: 1,
  pressRightScale: d3.scaleLinear().domain([1012,1018]).range([301,231]), pressRightTicks: [1018,1016,1014,1012],
  windDomain: [0,20], windRange: [392,315], windTicks: [20,15,10,5,0], wind: sideWind, gust: sideGust,
  kmhScale: d3.scaleLinear().domain([0,72]).range([392,315]), kmhTicks: [72,54,36,18,0],
  windFrom: sideWindFrom, arrowY: 413.5, arrowLen: 15, arrowHead: 3.2,
  baseRange: [514,495,475.7,456.7,436], nightStart: [19.07], nightEnd: [28.04],
  bases: [sideBase01,sideBase25,sideBase45,sideBase65,sideBase79], cloudTop: sideCloudTop, visibility: sideVisibility,
  cloudRange: [601,523], cloudVeryLow: sideCloudVeryLow, cloudLow: sideCloudLow, cloudMid: sideCloudMid, cloudHigh: sideCloudHigh,
  fogHours: sideFogHours, fog: sideFog
});

// ---------- time labels ----------
timeAxis(xMain, d3.range(3, 78, 6), mainLocalLabels, 46.5);
timeAxis(xMain, d3.range(3, 78, 6), mainUtcLabels, 608);
timeAxis(xSide, [18,24,30], sideLocalLabels, 43.5);
timeAxis(xSide, [18,24,30], sideUtcLabels, 605.5);
[12,36,60].forEach(function(h, i) {
  text(svg, xMain(h), 41, dayLabels[i], '#000', 'middle', 59);
  text(svg, xMain(h), 630, dateLabels[i], '#000', 'middle', 31);
});
text(svg, 303, 55, 'CEST');
text(svg, 855, 55, 'CEST');
text(svg, 307, 616, 'UTC');
text(svg, 860, 616, 'UTC');

// ---------- header and footer ----------
text(svg, 287, 12, 'wschód słońca: 06:09 CEST', NAVY, 'start', 154);
text(svg, 288, 25, 'zachód słońca: 18:48 CEST', NAVY, 'start', 152);
text(svg, 595, 12, '21°28\'30"E, 53°53\'34"N', NAVY, 'middle', 129);
text(svg, 595.5, 25, '(x=257,\u00a0\u00a0y=358)', NAVY, 'middle', 81);
text(svg, 818, 12, 'wysokość (min, środek, max)', NAVY, 'middle', 158);
text(svg, 819, 25, '128 - 151 - 178 m', NAVY, 'middle', 96);
text(svg, 309, 652, 'meteo@icm.edu.pl', NAVY, 'start', 109);
text(svg, 623, 652, '© 2007-2025 ICM, Uniwersytet Warszawski', NAVY, 'start', 252);

// ---------- rotated axis names ----------
vtext(293.5, 96, 'temperatura'); vtext(305, 96, '(°C)');
vtext(293.5, 183, 'opad'); vtext(305, 186, '(mm/h, kg/m³/h)');
vtext(293.5, 271, 'ciśnienie'); vtext(305, 273, '(hPa)');
vtext(293.5, 356, 'wiatr'); vtext(305, 361, '(m/s)');
vtext(293.5, 475, 'pion. rozciągł. chm.'); vtext(305, 478, '(km)');
vtext(293.5, 572, 'zachmurzenie'); vtext(305, 562, '(oktanty)');
vtext(905, 96, 'temperatura'); vtext(893, 97, '(°C)');
vtext(905, 187, 'wilgotność wzgl.'); vtext(893, 186, '(%)');
vtext(905, 272, 'ciśnienie'); vtext(893, 273, '(mm Hg)');
vtext(905, 363, 'wiatr'); vtext(893, 362, '(km/h)');
vtext(905, 475, 'widzialność'); vtext(893, 474, '(km)');
vtext(905, 563, 'mgła'); vtext(893, 563, '(frakcja)');

// compass letters on both sides of the direction panel
[0,599].forEach(function(dx) {
  text(svg, 288 + dx, 420, 'W', NAVY, 'middle');
  text(svg, 298.5 + dx, 411, 'N', NAVY, 'middle');
  text(svg, 297.5 + dx, 428, 'S', NAVY, 'middle');
  svg.append('text').attr('transform', `translate(${301.5 + dx},415) rotate(90)`)
    .attr('text-anchor', 'middle').attr('fill', NAVY).text('E');
});

// ---------- legend labels ----------
svg.append('rect').attr('x', 11).attr('y', 505).attr('width', 44).attr('height', 14).attr('fill', SKY);
svg.append('rect').attr('x', 10).attr('y', 551).attr('width', 41).attr('height', 12).attr('fill', SKY);
[
  [6,18,'Czas lokalny','#000',59], [6,31,'(CET/CEST)','#000',54],
  [5,46,'Temperatura gruntu',BROWN,94], [27,57,'max/min',BROWN,39],
  [5,69,'Temperatura:','#000',62], [13,81,'punkt środkowy','#ff0000',77],
  [27,92,'max/min','#ffe0d0',39], [10,103,'odczuwana','#0000ff',57],
  [27,113,'max/min','#b0e4fa',39], [6,125,'Temp. punktu rosy','#6a5acd',87],
  [6,141,'Opad powyżej skali','#ff0000',95], [6,155,'Wilgotność względna',HUMID,98],
  [6,170,'Wystąpienie burzy','#000',89], [6,184,'Deszcz: max','#00a000',63],
  [49,195,'średni','#00a000',29], [6,206,'Śnieg:','#1a3ac8',29],
  [49,206,'max','#1a3ac8',19], [49,217,'średni','#1a3ac8',29],
  [5,227,'Wystąpienie opadu','#ff0000',89], [5,240,'konwekcyjnego','#ff0000',72],
  [5,267,'Ciśnienie','#000',43], [5,280,'zredukowane','#000',66], [5,293,'do poziomu morza','#000',87],
  [10,338,'poryw powyżej skali','#ff0000',100], [10,352,'max porywy wiatru','#ff0000',95],
  [10,372,'prędkość wiatru',NAVY,79], [10,385,'w środku obszaru',NAVY,89],
  [10,413,'kierunek wiatru',NAVY,73], [6,433,'Wierzchołek chmur',BROWN,91],
  [6,448,'Podstawa chmur*','#000',85], [6,459,'o pokryciu','#000',48],
  [11,472,'> 7.9 okt.','#000',44], [11,484,'> 6.5 okt.','#555',44], [11,495,'> 4.5 okt.','#aaa',44],
  [11,505,'> 2.5 okt.','#ddd',44], [11,516,'> 0.1 okt.','#fff',44],
  [6,530,'Widzialność',ORANGE,57], [6,547,'Chmury:','#000',39],
  [11,560,'wysokie','#fff',40], [10,573,'średnie','#aaa',36], [10,585,'niskie','#444',27],
  [10,597,'bardzo niskie','#333',62], [6,609,'Mgła','#ffc000',20], [6,626,'Czas uniwersalny (UTC)','#000',131]
].forEach(d => text(svg, d[0], d[1], d[2], d[3], 'start', d[4]).style('font-size', '11px'));

let windTitle = text(svg, 5, 322, 'Wiatr na ', '#000').style('font-size', '11px');
windTitle.append('tspan').style('font-family', '"Liberation Serif"').text('10m');
windTitle.append('tspan').text(':');
text(svg, 5, 650, '* powyżej poziomu morza', '#000', 'start', 103).style('font-size', '9.5px').style('font-weight', 'bold');

// ---------- legend pointers ----------
[
  [[68,16],[133,16],[157,44],'#000'],
  [[102,43],[120,43],[150,88],BROWN],
  [[92,76],[115,76],'#ff0000'], [[130,76],[135,78],[157,100],'#ff0000'],
  [[71,99],[135,99],'#0000ff'],
  [[94,120],[135,120],[140,113],'#6a5acd'],
  [[102,137],[138,137],[146,146],'#ff0000'],
  [[107,151],[112,151],HUMID], [[130,151],[140,158],HUMID],
  [[95,166],[112,166],'#000'], [[130,166],[135,166],[139,172],'#000'],
  [[71,179],[139,179],'#00a000'], [[80,190],[143,190],'#00a000'],
  [[70,202],[112,202],'#1a3ac8'], [[130,202],[160,172],'#1a3ac8'],
  [[81,212],[130,212],[160,183],'#1a3ac8'],
  [[97,225],[143,225],[147,220],'#ff0000'],
  [[52,264],[135,264],'#000'],
  [[112,334],[118,334],'#ff0000'], [[130,334],[138,317],'#ff0000'],
  [[107,348],[132,348],[148,340],'#ff0000'],
  [[92,367],[135,367],NAVY],
  [[86,410],[135,410],[140,405],NAVY],
  [[100,430],[135,430],[185,446],BROWN],
  [[57,468],[132,468],[190,457],'#000'],
  [[57,480],[142,480],'#444'],
  [[57,490],[132,490],[143,502],'#999'],
  [[57,501],[132,501],[137,505],'#ddd'],
  [[55,509],[132,509],SKY], [[55,511],[137,511],SKY],
  [[67,527],[128,527],[173,465],ORANGE],
  [[53,556],[185,556],SKY], [[53,558],[185,558],SKY],
  [[49,571],[193,571],'#999'],
  [[38,582],[135,582],'#222'],
  [[74,594],[150,594],'#222'],
  [[27,605],[215,605],[218,600],'#ffb400'],
  [[138,623],[148,623],[157,612],'#000']
].forEach(function(p) {
  svg.append('path').attr('d', d3.line()(p.slice(0, -1))).attr('fill', 'none').attr('stroke', p[p.length - 1]).attr('shape-rendering', 'crispEdges');
});
</script>
</body>
</html>
